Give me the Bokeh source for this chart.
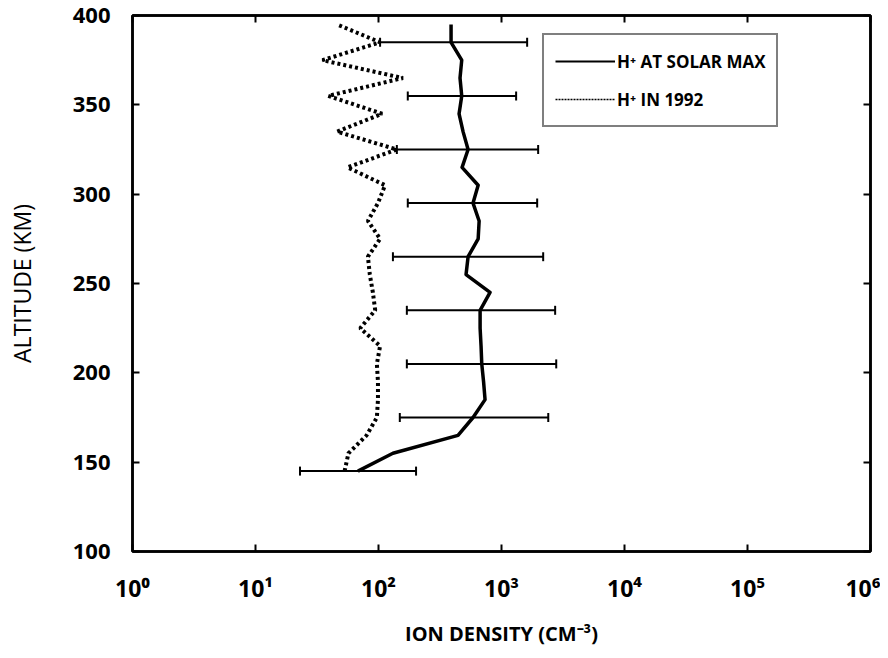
from bokeh.plotting import figure
from bokeh.models import (ColumnDataSource, Range1d, FixedTicker, LogAxis, LinearAxis,
                          Whisker, TeeHead, Legend, LegendItem)
from bokeh.embed import file_html
from bokeh.resources import INLINE

# ---- data ----
altitude = [145, 155, 165, 175, 185, 195, 205, 215, 225, 235, 245, 255, 265,
            275, 285, 295, 305, 315, 325, 335, 345, 355, 365, 375, 385, 395]
h_solar_max = [68, 131, 443, 587, 735, 715, 691, 682, 670, 670, 807, 515, 535,
               646, 658, 587, 646, 478, 535, 487, 452, 475, 460, 475, 389, 389]
h_1992 = [53, 57, 80, 97, 99, 99, 97, 103, 71, 94, 90, 85, 82,
          103, 82, 99, 113, 56, 141, 46, 107, 39, 158, 35, 103, 46]

err_altitude = [145, 175, 205, 235, 265, 295, 325, 355, 385]
err_low = [23, 149, 170, 170, 131, 173, 141, 173, 103]
err_high = [202, 2400, 2786, 2730, 2182, 1950, 1986, 1315, 1616]

x_ticks = [1, 10, 100, 1000, 10000, 100000, 1000000]
x_tick_labels = ["10⁰", "10¹", "10²", "10³", "10⁴", "10⁵", "10⁶"]
y_ticks = [100, 150, 200, 250, 300, 350, 400]

FONT = "Open Sans"

p = figure(width=880, height=650, x_axis_type="log",
           x_range=Range1d(1, 1e6), y_range=Range1d(100, 400),
           output_backend="svg", toolbar_location=None,
           x_axis_label="ION DENSITY (CM⁻³)", y_axis_label="ALTITUDE (KM)")
p.min_border_left = 132
p.min_border_right = 10
p.min_border_top = 15
p.min_border_bottom = 99
p.grid.visible = False
p.outline_line_color = "black"
p.outline_line_width = 2.5
p.background_fill_color = "white"
p.border_fill_color = "white"

# main axes
for ax in (p.xaxis[0], p.yaxis[0]):
    ax.axis_line_width = 2.5
    ax.axis_line_color = "black"
    ax.major_tick_in = 7
    ax.major_tick_out = 0
    ax.major_tick_line_width = 2
    ax.minor_tick_line_color = None
    ax.major_label_text_font = FONT
    ax.major_label_text_font_style = "bold"
    ax.major_label_text_color = "black"
    ax.axis_label_text_font = FONT
    ax.axis_label_text_color = "black"

p.xaxis[0].ticker = FixedTicker(ticks=x_ticks)
p.xaxis[0].major_label_overrides = {float(t): s for t, s in zip(x_ticks, x_tick_labels)}
p.xaxis[0].major_label_text_font_size = "23px"
p.xaxis[0].major_label_standoff = 20
p.xaxis[0].axis_label_standoff = 13
p.xaxis[0].axis_label_text_font_size = "20px"
p.xaxis[0].axis_label_text_font_style = "bold"

p.yaxis[0].ticker = FixedTicker(ticks=y_ticks)
p.yaxis[0].major_label_text_font_size = "22px"
p.yaxis[0].major_label_standoff = 22
p.yaxis[0].axis_label_standoff = 32
p.yaxis[0].axis_label_text_font_size = "23px"
p.yaxis[0].axis_label_text_font_style = "normal"

# mirrored tick axes (labels hidden)
top = LogAxis(ticker=FixedTicker(ticks=x_ticks), major_label_text_font_size="1px",
              major_label_text_alpha=0,
              major_tick_in=7, major_tick_out=0, major_tick_line_width=2,
              minor_tick_line_color=None, axis_line_width=2.5, major_label_standoff=0)
right = LinearAxis(ticker=FixedTicker(ticks=y_ticks), major_label_text_font_size="1px",
                   major_label_text_alpha=0,
                   major_tick_in=7, major_tick_out=0, major_tick_line_width=2,
                   minor_tick_line_color=None, axis_line_width=2.5, major_label_standoff=0)
p.add_layout(top, "above")
p.add_layout(right, "right")

# data
src = ColumnDataSource(dict(alt=altitude, solar=h_solar_max, y1992=h_1992))
err = ColumnDataSource(dict(alt=err_altitude, lo=err_low, hi=err_high))

p.line("y1992", "alt", source=src, line_color="black", line_width=4,
       line_dash="3 3")
p.line("solar", "alt", source=src, line_color="black", line_width=3.5,
       line_join="round")

wh = Whisker(source=err, base="alt", lower="lo", upper="hi", dimension="width",
             line_color="black", line_width=2,
             lower_head=TeeHead(size=9, line_width=2, line_color="black"),
             upper_head=TeeHead(size=9, line_width=2, line_color="black"))
p.add_layout(wh)

# legend proxies (thin lines as in the reference key), placed outside the ranges
proxy = ColumnDataSource(dict(x=[1e7], y=[50]))
r_solid = p.line("x", "y", source=proxy, line_color="black", line_width=2)
r_dot = p.line("x", "y", source=proxy, line_color="black", line_width=1.5,
               line_dash="2 1")

legend = Legend(items=[LegendItem(label="H⁺ AT SOLAR MAX", renderers=[r_solid]),
                       LegendItem(label="H⁺ IN 1992", renderers=[r_dot])],
                location=(410, 424), orientation="vertical",
                border_line_color="black", border_line_width=2.5,
                background_fill_color="white", background_fill_alpha=1,
                glyph_width=60, glyph_height=30, label_height=30,
                label_standoff=2, spacing=8, padding=11, margin=0,
                label_text_font=FONT, label_text_font_style="bold",
                label_text_font_size="17px", label_text_color="black")
p.add_layout(legend, "center")

open("out.html", "w").write(file_html(p, INLINE))
